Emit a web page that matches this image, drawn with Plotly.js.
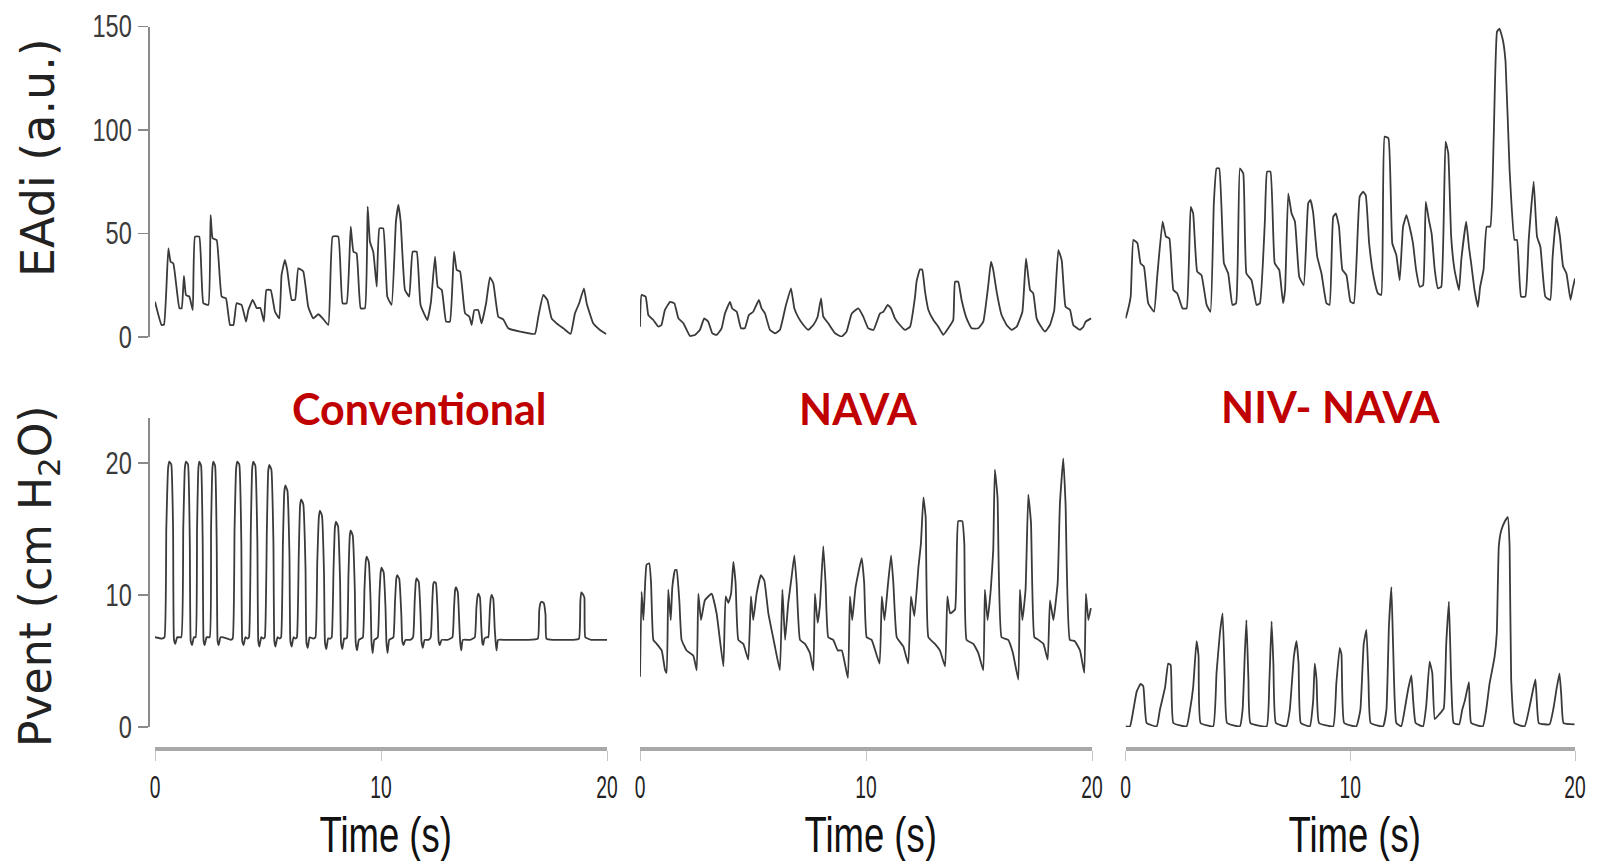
<!DOCTYPE html>
<html>
<head>
<meta charset="utf-8">
<script src="https://cdn.plot.ly/plotly-3.0.1.min.js"></script>
<style>html,body{margin:0;padding:0;background:#fff;}#chart{width:1603px;height:861px;}</style>
</head>
<body>
<div id="chart"></div>
<script>
// ---------- DATA ----------
const panelTitles = ["Conventional", "NAVA", "NIV- NAVA"];
const eadiTicks = [0, 50, 100, 150];
const pventTicks = [0, 10, 20];
const timeTicks = [0, 10, 20];

// EAdi (a.u.) — Conventional
const convEadiT = [0,0.29,0.4,0.59,0.69,0.81,0.93,1.08,1.18,1.28,1.37,1.52,1.67,1.77,1.96,2.14,2.36,2.46,2.55,2.73,2.95,3.14,3.32,3.47,3.61,3.83,4.03,4.13,4.32,4.5,4.66,4.82,4.93,5.12,5.31,5.5,5.6,5.75,5.85,6.05,6.2,6.34,6.56,6.78,7.0,7.23,7.42,7.67,7.86,8.11,8.3,8.48,8.66,8.78,8.92,9.1,9.29,9.41,9.51,9.66,9.81,9.93,10.1,10.28,10.47,10.66,10.77,10.87,11.06,11.25,11.4,11.58,11.75,12.05,12.21,12.39,12.51,12.69,12.88,13.05,13.23,13.35,13.5,13.72,13.91,14.01,14.13,14.3,14.45,14.65,14.82,14.97,15.19,15.41,15.63,16.15,16.81,16.96,17.18,17.36,17.55,17.77,18.07,18.39,18.58,18.77,18.98,19.1,19.39,19.69,19.96];
const convEadiV = [17,5.8,6,42.8,36.4,35.6,26,13.9,13.9,29.5,20.3,19.5,13,48.5,48.5,16.3,15.5,58.9,47.7,46.9,19.5,18.7,5.8,5.8,16.3,15.5,7.4,13,17.9,14,14,7.4,22.7,22.7,12.2,9,30,37.2,32.4,17.9,17.9,33.2,31.6,14.6,9,11,9,5.8,48.5,48.5,16.3,16.3,53.3,41.2,40.4,13.9,13.9,63,46,41,24.3,52.5,52.5,19.5,15.5,55.7,63.8,55.7,22.7,19.5,41.2,41.2,15.5,8.2,17,38.8,24.3,22.7,7.4,7.4,41.2,32.4,31.6,11.4,9.8,5.8,13,13,6.6,16.3,28.8,26,9.8,8.5,4.2,2.6,1.5,9.8,20.3,17.9,9,6.6,4.2,1.5,11.4,16.3,23.5,16.3,6.6,3.4,1.5];

// EAdi (a.u.) — NAVA
const navaEadiT = [0,0.07,0.25,0.37,0.59,0.81,0.95,1.1,1.33,1.52,1.7,1.92,2.21,2.43,2.65,2.84,3.02,3.2,3.39,3.61,3.76,3.98,4.08,4.28,4.47,4.64,4.82,5.01,5.26,5.38,5.53,5.75,5.97,6.19,6.44,6.68,6.83,7.03,7.23,7.45,7.67,7.86,8.01,8.11,8.33,8.63,8.92,9.14,9.37,9.66,9.88,10.1,10.33,10.62,10.77,10.96,11.11,11.28,11.5,11.73,11.95,12.17,12.24,12.39,12.49,12.61,12.76,12.98,13.2,13.42,13.64,13.86,13.94,14.08,14.23,14.45,14.67,14.97,15.19,15.41,15.53,15.63,15.78,16.0,16.22,16.44,16.67,16.92,17.08,17.26,17.4,17.55,17.7,17.92,18.14,18.33,18.51,18.66,18.83,19.03,19.17,19.47,19.62,19.72,19.96];
const navaEadiV = [5,20.3,19.5,10.6,8.2,5,5.8,13,17,16.3,9,6.6,0.5,1,3.4,9,7.4,1.8,1,4.2,11.4,17,13.8,12.2,4.2,4.2,10.6,12.2,17.9,13.8,11.4,3.4,1.8,3.4,14.6,23.5,13.8,9,5.8,3.4,5.8,9.8,18.7,9.8,6.6,1.8,0.2,2.6,11.4,13.8,9.8,4.2,3.4,11.4,12.2,15.5,13.8,9,5.8,3.4,5,19.5,27,32.7,32.4,22,13,8.2,5,1,4.2,8.2,26.7,26.7,17.9,9,4.2,4.2,7.4,25,36.4,32.4,21.9,10.6,5.8,3.4,5,12.2,38,22.7,21.1,9,5.8,2.6,5.8,13,42,37,14.6,13,5.8,3.4,5,7.4,9];

// EAdi (a.u.) — NIV-NAVA
const nivEadiT = [0,0.05,0.23,0.35,0.53,0.67,0.82,1.01,1.27,1.41,1.65,1.8,1.95,2.13,2.3,2.54,2.72,2.9,3.01,3.19,3.38,3.61,3.78,3.93,4.05,4.17,4.38,4.57,4.76,4.92,5.09,5.24,5.38,5.61,5.83,5.98,6.2,6.3,6.45,6.64,6.84,7.01,7.1,7.24,7.39,7.54,7.73,7.93,8.13,8.23,8.35,8.53,8.72,8.94,9.08,9.24,9.36,9.5,9.65,9.83,10.01,10.16,10.42,10.57,10.69,10.84,11.04,11.23,11.38,11.53,11.7,11.87,12.05,12.2,12.35,12.5,12.64,12.79,12.93,13.09,13.24,13.36,13.5,13.62,13.76,13.9,14.05,14.24,14.36,14.49,14.64,14.84,14.94,15.16,15.28,15.38,15.53,15.68,15.78,15.93,16.07,16.23,16.38,16.53,16.64,16.79,16.91,17.09,17.31,17.42,17.6,17.79,17.94,18.16,18.31,18.46,18.68,18.9,19.0,19.17,19.33,19.47,19.62,19.8,19.9,20.0];
const nivEadiV = [9,10.6,19.5,46.9,45.3,35.6,34,16.3,12.2,29.1,55.7,48.5,47.7,22.7,21.1,13.8,13.8,62.9,59.7,31.6,29.9,15.5,12.2,64.6,81.5,81.5,35.6,30.7,15.5,16.3,81.5,79,30.7,27.4,15.5,16.3,55.7,79.9,79.9,35.6,32.4,16.3,22.7,69.4,59.7,55.7,29.1,25,64.6,66.2,60,38.8,30.7,16.3,15.5,58,59.7,53.3,32.4,29.9,17,16.3,67.8,70.2,68.5,45.3,29.1,21.1,20.3,96.8,96,45.3,39.6,27.4,53.3,58.9,53.3,45.3,32.4,24.3,25,65.4,56.5,50,32.4,23.5,24.3,94.4,88.8,48.5,32.4,22.7,37.2,55.7,43.6,35.6,22.7,14.6,24.3,32.4,53.3,53.3,95.2,147.5,149,143.5,133,80.7,46.9,46.9,19.5,19.5,46.9,75,48.5,43.6,19.5,17.9,38,58.1,48.5,34,30.7,17.9,23.5,28.3];

// Pvent (cm H2O) — Conventional
const convPventT = [0,0.3,0.42,0.5,0.58,0.63,0.72,0.8,0.84,0.9,0.98,1.16,1.25,1.32,1.37,1.46,1.54,1.58,1.64,1.72,1.8,1.86,1.92,1.96,2.04,2.11,2.15,2.2,2.28,2.42,2.48,2.54,2.58,2.66,2.73,2.77,2.82,2.9,3.2,3.35,3.44,3.52,3.59,3.64,3.73,3.82,3.86,3.92,4.0,4.1,4.16,4.24,4.3,4.35,4.44,4.53,4.57,4.62,4.7,4.8,4.86,4.95,5.01,5.06,5.15,5.24,5.28,5.33,5.42,5.52,5.58,5.66,5.72,5.77,5.86,5.95,5.99,6.05,6.13,6.22,6.28,6.36,6.42,6.47,6.56,6.66,6.7,6.76,6.84,7.0,7.1,7.18,7.25,7.3,7.39,7.48,7.52,7.58,7.66,7.76,7.82,7.9,7.96,8.01,8.1,8.19,8.23,8.29,8.37,8.46,8.5,8.56,8.62,8.66,8.75,8.84,8.88,8.94,9.02,9.12,9.2,9.27,9.33,9.37,9.46,9.54,9.58,9.63,9.7,9.8,9.86,9.93,9.99,10.03,10.12,10.2,10.24,10.29,10.36,10.46,10.55,10.62,10.68,10.72,10.81,10.9,10.94,11.0,11.08,11.3,11.42,11.49,11.54,11.58,11.67,11.75,11.79,11.85,11.93,12.1,12.2,12.27,12.31,12.35,12.43,12.51,12.55,12.6,12.68,12.95,13.16,13.23,13.28,13.32,13.4,13.46,13.5,13.55,13.62,13.95,14.15,14.22,14.27,14.31,14.38,14.44,14.48,14.52,14.58,14.7,14.75,14.82,14.86,14.9,14.97,15.03,15.07,15.11,15.18,15.5,16.0,16.5,16.94,17.0,17.06,17.11,17.2,17.28,17.32,17.6,18.0,18.5,18.76,18.82,18.86,18.92,19.0,19.04,19.3,19.7,20.0];
const convPventV = [6.8,6.7,6.8,15,19.6,20.1,19.9,15,6.6,6.3,6.8,6.8,15,19.6,20.1,19.9,14,6.5,6.2,6.8,6.8,15,19.6,20.1,19.8,14,6.5,6.2,6.8,6.8,15,19.6,20.1,19.8,14,6.5,6.2,6.8,6.7,6.6,6.7,15,19.6,20.1,19.9,14,6.5,6.2,6.8,6.7,6.8,15,19.6,20.1,19.8,14,6.5,6.1,6.8,6.7,6.8,15,19.4,19.85,19.5,14,6.5,6.1,6.8,6.7,6.8,14,17.8,18.3,17.9,13,6.5,6.1,6.8,6.7,6.8,13,16.8,17.25,16.9,12,6.4,6.0,6.8,6.7,6.8,12.5,15.9,16.4,16.0,11.5,6.4,5.9,6.7,6.7,6.8,12,15.1,15.56,15.2,11,6.4,5.9,6.7,6.7,6.8,11.5,14.5,14.9,14.5,10.5,6.4,5.8,6.6,6.7,6.8,10.5,12.6,12.9,12.5,9.5,6.4,5.6,6.6,6.7,6.8,10,11.8,12.07,11.7,9,6.4,5.6,6.6,6.7,6.8,9.5,11.3,11.5,11.2,8.5,6.5,6.2,6.6,6.6,6.8,9.5,11.0,11.25,11.0,8.5,6.5,6.0,6.6,6.6,6.8,9.5,10.8,11.0,10.9,8.5,6.5,6.2,6.6,6.6,6.8,9,10.4,10.6,10.2,8,6.5,5.8,6.6,6.6,6.8,9,9.9,10.1,9.8,7.5,6.4,6.2,6.7,6.8,6.8,9,9.8,10.0,9.7,7.5,6.5,5.8,6.6,6.6,6.6,6.6,6.7,8.8,9.4,9.5,9.4,8.5,6.7,6.6,6.6,6.6,6.7,9.5,10.2,10.1,9.8,6.8,6.6,6.6,6.6];

// Pvent (cm H2O) — NAVA
const navaPventT = [0,0.07,0.15,0.22,0.29,0.41,0.49,0.59,0.74,0.96,1.11,1.18,1.25,1.36,1.43,1.55,1.62,1.74,1.84,2.06,2.36,2.51,2.58,2.7,2.87,3.17,3.39,3.69,3.79,3.91,4.03,4.13,4.23,4.35,4.57,4.79,4.91,5.01,5.16,5.35,5.5,5.68,5.97,6.19,6.3,6.42,6.56,6.71,6.83,6.93,7.08,7.3,7.52,7.67,7.74,7.86,7.96,8.11,8.21,8.33,8.55,8.75,8.93,9.2,9.29,9.39,9.54,9.81,9.92,10.03,10.25,10.6,10.7,10.82,10.96,11.11,11.21,11.36,11.65,11.87,11.99,12.14,12.32,12.43,12.54,12.64,12.76,13.05,13.27,13.5,13.6,13.72,13.94,14.08,14.26,14.35,14.45,14.75,14.97,15.19,15.26,15.38,15.52,15.63,15.7,15.82,16.0,16.29,16.5,16.74,16.81,16.92,17.06,17.18,17.3,17.45,17.63,17.85,18.04,18.14,18.29,18.48,18.58,18.73,18.83,19.02,19.24,19.47,19.66,19.73,19.84,19.95];
const navaPventV = [3.8,10.25,8.1,10.6,12.3,12.4,10.9,6.6,6.3,5.8,4.3,4.1,10.4,8.1,10.6,11.9,11.9,9.6,6.6,5.8,5.4,4.3,10.1,8.1,9.6,10.1,8.6,4.6,9.9,9.4,10.1,12.5,10.9,6.6,6.3,5.1,9.9,8.1,10.1,11.5,11.1,8.6,6.1,4.3,10.4,6.6,9.4,11.4,13.0,10.9,6.6,6.3,5.6,4.3,10.1,7.9,9.2,13.7,10.9,6.8,6.6,5.8,5.8,3.7,9.9,8.1,10.6,12.8,10.9,6.8,6.6,4.8,9.9,8.1,10.6,13.0,10.9,6.8,6.1,4.8,9.9,8.4,12.1,13.9,17.4,15.9,6.8,6.3,5.8,4.6,9.9,8.6,8.9,15.6,15.6,13.9,6.6,6.3,5.6,4.3,10.4,8.1,10.4,13.4,19.5,17.4,6.8,6.6,5.6,3.6,10.4,8.1,10.4,17.6,15.5,6.8,6.6,6.3,5.1,9.6,8.1,10.9,16.9,20.35,16.9,6.6,6.5,5.8,4.1,10.1,8.1,9.0];

// Pvent (cm H2O) — NIV-NAVA
const nivPventT = [0,0.2,0.35,0.5,0.67,0.79,0.94,1.39,1.53,1.76,1.9,2.01,2.13,2.72,2.87,3.01,3.16,3.25,3.34,3.9,4.05,4.2,4.32,4.42,4.52,5.09,5.21,5.31,5.38,5.47,5.56,6.28,6.4,6.5,6.58,6.69,7.16,7.31,7.49,7.61,7.7,7.8,8.2,8.35,8.42,8.5,8.61,9.24,9.38,9.53,9.61,9.73,10.27,10.45,10.6,10.72,10.81,10.91,11.46,11.61,11.72,11.83,11.91,12.05,12.27,12.42,12.57,12.72,12.8,12.91,13.24,13.38,13.53,13.65,13.76,13.98,14.16,14.27,14.39,14.49,14.6,14.85,14.98,15.1,15.28,15.38,15.9,16.05,16.2,16.42,16.52,16.61,16.72,16.87,17.01,17.09,17.16,17.31,17.76,17.95,18.13,18.24,18.3,18.39,18.87,19.04,19.19,19.31,19.39,19.49,19.98];
const nivPventV = [0.05,0.05,1.3,2.7,3.26,3.1,0.3,0.05,1.3,3.0,4.8,4.7,0.3,0.05,1.3,3.0,6.5,5.4,0.3,0.05,4.1,7.1,8.6,3.6,0.3,0.05,1.3,5.6,8.1,3.6,0.3,0.05,3.4,8.0,4.8,0.3,0.05,1.3,5.3,6.5,4.8,0.3,0.05,2.0,4.8,3.6,0.3,0.05,3.3,6.0,5.5,0.3,0.05,1.3,6.3,7.35,3.6,0.3,0.05,1.3,7.6,10.6,6.0,0.3,0.05,1.3,2.8,3.9,2.0,0.3,0.05,1.6,4.95,4.1,0.6,1.0,1.4,6.3,9.5,3.6,0.3,0.2,1.3,2.0,3.4,0.3,0.05,1.3,3.3,5.3,7.1,13.7,14.9,15.55,15.9,13.7,3.6,0.3,0.05,1.3,2.8,3.6,2.0,0.3,0.2,1.4,3.0,4.07,2.4,0.3,0.2];

// ---------- CHART ----------
const sansFont = "Liberation Sans, Arial, Helvetica, sans-serif";
const lineStyle = {color: "#3a3a3a", width: 1.8, shape: "spline", smoothing: 0.35};
const mk = (x, y, xa, ya) => ({x: x, y: y, xaxis: xa, yaxis: ya, type: "scatter", mode: "lines", line: lineStyle, hoverinfo: "skip", showlegend: false});

const data = [
  mk(convEadiT, convEadiV, "x", "y"),
  mk(navaEadiT, navaEadiV, "x2", "y"),
  mk(nivEadiT, nivEadiV, "x3", "y"),
  mk(convPventT, convPventV, "x", "y2"),
  mk(navaPventT, navaPventV, "x2", "y2"),
  mk(nivPventT, nivPventV, "x3", "y2")
];

const W = 1603, H = 861;
const px = v => v / W, py = v => 1 - v / H;

const xCommon = {
  range: [0, 20], tickvals: timeTicks, ticktext: timeTicks.map(String),
  anchor: "free", position: py(749),
  showline: true, linecolor: "#a8a8a8", linewidth: 4,
  ticks: "outside", ticklen: 10, tickcolor: "#c4c4c4", tickwidth: 1,
  ticklabelstandoff: 0,
  tickfont: {family: sansFont, size: 31, color: "#222"},
  showgrid: false, zeroline: false, fixedrange: true
};
const yCommon = {
  anchor: "free", position: px(148),
  showline: true, linecolor: "#8a8a8a", linewidth: 1.5,
  ticks: "outside", ticklen: 10, tickcolor: "#8a8a8a", tickwidth: 1.5,
  tickfont: {family: sansFont, size: 31, color: "#3a3a3a"},
  showgrid: false, zeroline: false, fixedrange: true
};

const annotations = [];
const titleX = [px(419), px(858), px(1331)];
const titleY = [py(408), py(408), py(406)];
panelTitles.forEach((t, i) => annotations.push({
  text: t, xref: "paper", yref: "paper", x: titleX[i], y: titleY[i],
  xanchor: "center", yanchor: "middle", showarrow: false,
  font: {family: "Lato, Open Sans, sans-serif", size: 43, color: "#C00000", weight: 700}
}));
["x", "x2", "x3"].forEach(xa => annotations.push({
  text: "Time (s)", xref: xa, yref: "paper", x: 10.2, y: py(835),
  xanchor: "center", yanchor: "middle", showarrow: false,
  font: {family: sansFont, size: 50, color: "#111"}
}));
annotations.push({
  text: "EAdi (a.u.)", xref: "paper", yref: "paper", x: px(38), y: py(158),
  xanchor: "center", yanchor: "middle", showarrow: false, textangle: -90,
  font: {family: "DejaVu Sans, sans-serif", size: 46, color: "#222"}
});
annotations.push({
  text: "Pvent (cm H<sub>2</sub>O)", xref: "paper", yref: "paper", x: px(38), y: py(577),
  xanchor: "center", yanchor: "middle", showarrow: false, textangle: -90,
  font: {family: "DejaVu Sans, sans-serif", size: 44, color: "#222"}
});

const layout = {
  width: W, height: H, autosize: false,
  margin: {l: 0, r: 0, t: 0, b: 0, pad: 0},
  paper_bgcolor: "#ffffff", plot_bgcolor: "rgba(0,0,0,0)",
  showlegend: false,
  xaxis: Object.assign({}, xCommon, {domain: [px(155), px(607)]}),
  xaxis2: Object.assign({}, xCommon, {domain: [px(640), px(1092)]}),
  xaxis3: Object.assign({}, xCommon, {domain: [px(1125.5), px(1575)]}),
  yaxis: Object.assign({}, yCommon, {domain: [py(337), py(26.5)], range: [0, 150], tickvals: eadiTicks}),
  yaxis2: Object.assign({}, yCommon, {domain: [py(727), py(418)], range: [0, 23.41], tickvals: pventTicks}),
  annotations: annotations
};

// The source figure uses a condensed typeface; narrow the glyphs in place around their anchor.
function condense(nodes, s) {
  nodes.forEach(t => {
    const x = parseFloat(t.getAttribute("x")) || 0;
    const y = parseFloat(t.getAttribute("y")) || 0;
    const tr = t.getAttribute("transform") || "";
    t.setAttribute("transform", tr + " translate(" + x + "," + y + ") scale(" + s + ",1) translate(" + (-x) + "," + (-y) + ")");
  });
}

Plotly.newPlot("chart", data, layout, {staticPlot: true, displayModeBar: false}).then(gd => {
  condense(gd.querySelectorAll(".xtick text, .x2tick text, .x3tick text"), 0.62);
  condense(gd.querySelectorAll(".ytick text, .y2tick text"), 0.76);
  const timeTexts = Array.from(gd.querySelectorAll(".annotation-text")).filter(t => t.textContent === "Time (s)");
  condense(timeTexts, 0.73);
});
</script>
</body>
</html>
